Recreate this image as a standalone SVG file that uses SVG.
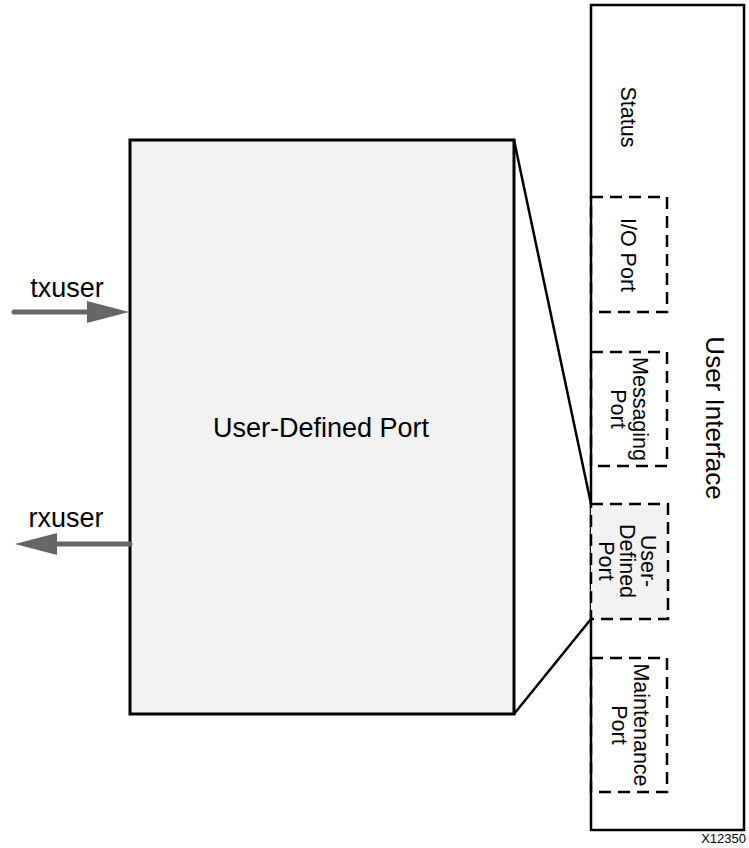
<svg xmlns="http://www.w3.org/2000/svg" width="749" height="848" viewBox="0 0 749 848">
<style>
text{font-family:"Liberation Sans",Arial,sans-serif;fill:#000}
.big{font-size:26px}
.lbl{font-size:27px}
.sm{font-size:21.5px}
.solid{fill:none;stroke:#000;stroke-width:2.5}
.dash{fill:none;stroke:#000;stroke-width:2.5;stroke-dasharray:12 7}
.arrow{stroke:#666;stroke-width:5;stroke-linecap:round;fill:none}
.head{fill:#666}
</style>
<rect width="749" height="848" fill="#fff"/>
<g id="user-interface">
<rect class="solid" x="591" y="5" width="153" height="825"/>
<text class="big" text-anchor="middle" transform="translate(706,418) rotate(90)">User Interface</text>
</g>
<g id="status">
<text class="sm" text-anchor="middle" transform="translate(621,117) rotate(90)">Status</text>
</g>
<g id="io-port">
<rect class="dash" x="591" y="197" width="76" height="115"/>
<text class="sm" text-anchor="middle" transform="translate(621,255) rotate(90)">I/O Port</text>
</g>
<g id="messaging-port">
<rect class="dash" x="591" y="352" width="76" height="114"/>
<text class="sm" text-anchor="middle" transform="translate(633,409) rotate(90)">Messaging</text>
<text class="sm" text-anchor="middle" transform="translate(611,409) rotate(90)">Port</text>
</g>
<g id="user-defined-port-small">
<rect class="dash" x="591" y="504" width="77" height="115" style="fill:#f2f2f2"/>
<text class="sm" text-anchor="middle" transform="translate(641,561) rotate(90)">User-</text>
<text class="sm" text-anchor="middle" transform="translate(620,561) rotate(90)">Defined</text>
<text class="sm" text-anchor="middle" transform="translate(599,561) rotate(90)">Port</text>
</g>
<g id="maintenance-port">
<rect class="dash" x="591" y="658" width="76" height="134"/>
<text class="sm" text-anchor="middle" transform="translate(634,725) rotate(90)">Maintenance</text>
<text class="sm" text-anchor="middle" transform="translate(612,725) rotate(90)">Port</text>
</g>
<g id="user-defined-port">
<rect x="130" y="140" width="384" height="574" fill="#f2f2f2" stroke="#000" stroke-width="3"/>
<text class="lbl" text-anchor="middle" x="321" y="437">User-Defined Port</text>
</g>
<g id="connectors">
<line class="solid" x1="514" y1="140" x2="591" y2="504"/>
<line class="solid" x1="514" y1="714" x2="591" y2="619"/>
<line class="arrow" x1="14" y1="312" x2="88" y2="312"/>
<polygon class="head" points="87,301 129,312 87,323"/>
<line class="arrow" x1="56" y1="544" x2="130" y2="544"/>
<polygon class="head" points="15,544 57,533 57,555"/>
</g>
<g id="labels">
<text class="lbl" text-anchor="middle" x="67" y="297">txuser</text>
<text class="lbl" text-anchor="middle" x="66" y="527">rxuser</text>
<text text-anchor="end" x="746" y="843" font-size="13">X12350</text>
</g>
</svg>
